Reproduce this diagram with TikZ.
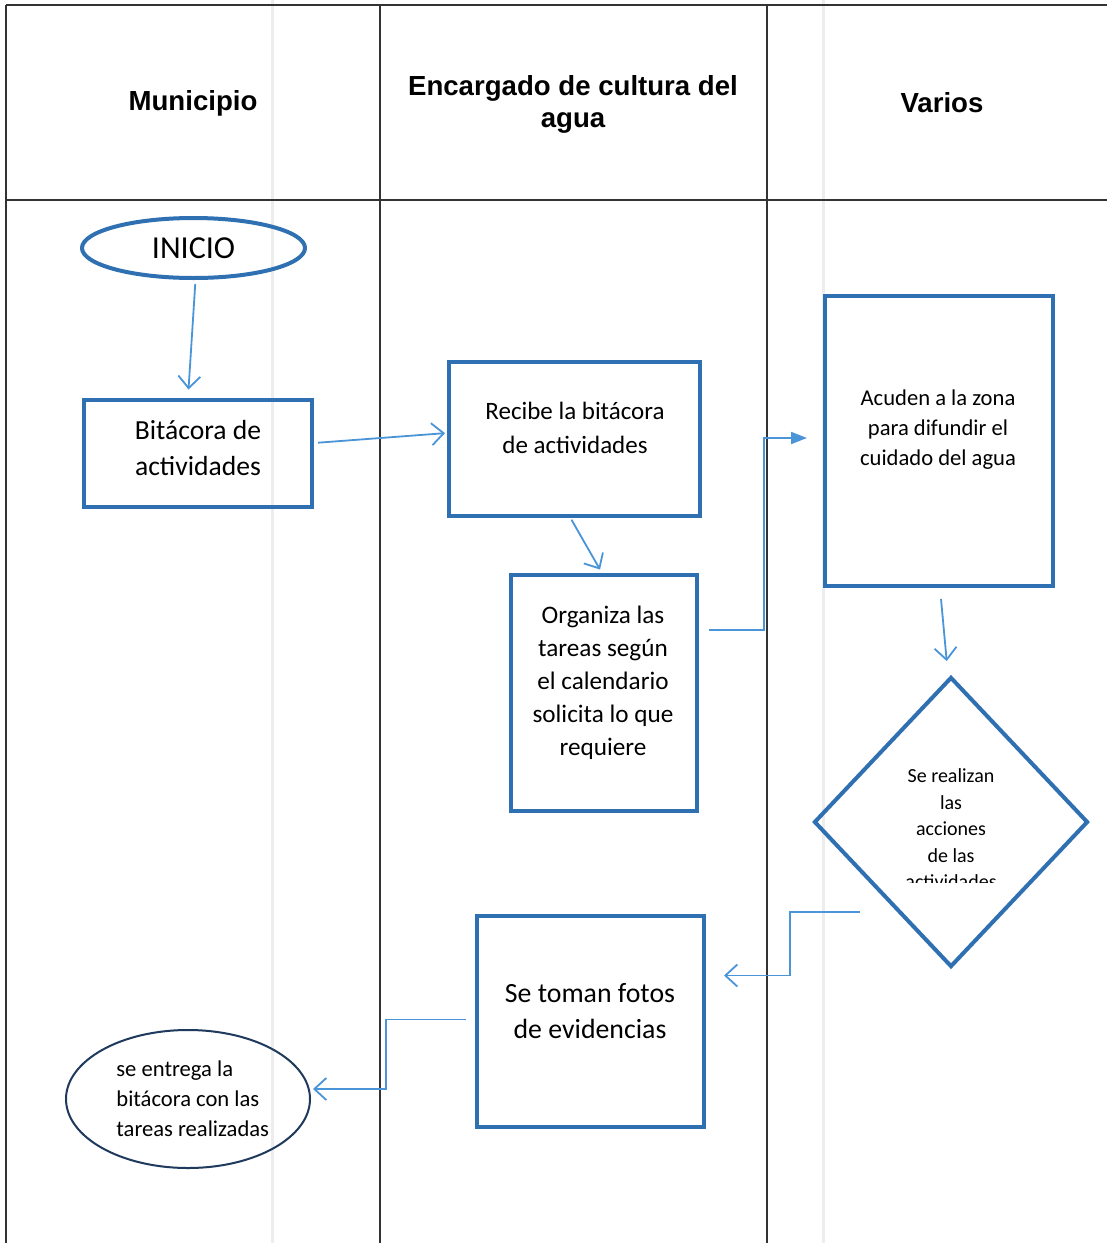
\documentclass[tikz,border=0pt]{standalone}
\usepackage{fontspec}
\setmainfont{Carlito}
\newfontfamily\headfont{Liberation Sans}
\usetikzlibrary{arrows.meta, shapes.geometric}
\definecolor{borde}{HTML}{2E70B2}
\definecolor{flecha}{HTML}{4A94D8}
\definecolor{marino}{HTML}{1F3A5C}
\tikzset{linea/.style = {draw=black!80, line width=0.7pt}}
\tikzset{tenue/.style = {draw=black!7, line width=1.5pt}}
\tikzset{titulo/.style = {font=\headfont\bfseries\fontsize{13.8}{16}\selectfont, align=center}}
\tikzset{caja/.style = {shape=rectangle, draw=borde, line width=2pt, inner sep=0pt}}
\tikzset{ovalo/.style = {shape=ellipse, draw=borde, line width=2pt, inner sep=0pt}}
\tikzset{rombo/.style = {shape=diamond, draw=borde, line width=2pt, inner sep=0pt}}
\tikzset{txt/.style = {align=center, inner sep=0pt}}
\tikzset{edge/.style = {draw=flecha, line width=0.9pt, -{Straight Barb[length=6pt,width=11pt]}}}
\tikzset{edgef/.style = {draw=flecha, line width=0.9pt, -{Triangle[length=8pt,width=6pt]}}}

\begin{document}
\begin{tikzpicture}[x=0.5pt, y=-0.5pt]
        \useasboundingbox (0,0) rectangle (1107,1243);
        \fill[white] (0,0) rectangle (1107,1243);
        \draw[tenue] (272,0) -- (272,1243);
        \draw[tenue] (823,0) -- (823,1243);
        % tabla
        \draw[linea] (6,5) -- (1107,5);
        \draw[linea] (6,5) -- (6,1243);
        \draw[linea, line width=1.2pt] (6,200) -- (1107,200);
        \draw[linea] (380,5) -- (380,1243);
        \draw[linea] (767,5) -- (767,1243);
        \node[titulo] (h1) at (193,103) {Municipio};
        \node[titulo] (h2) at (573,104) {Encargado de cultura del\\agua};
        \node[titulo] (h3) at (942,103) {Varios};
        % nodos
        \node[ovalo, minimum width=111.5pt, minimum height=30pt,
              font=\fontsize{16}{18}\selectfont] (ini) at (193.5,248) {INICIO};
        \node[caja, minimum width=114pt, minimum height=53.5pt] (b1) at (198,453) {};
        \node[txt, font=\fontsize{13.8}{18}\selectfont] (tb1) at (198,448) {Bitácora de\\actividades};
        \node[caja, minimum width=125.5pt, minimum height=77pt] (r1) at (574.5,439) {};
        \node[txt, font=\fontsize{12.5}{17}\selectfont] (tr1) at (575,428) {Recibe la bitácora\\de actividades};
        \node[caja, minimum width=93pt, minimum height=118pt] (o1) at (604,693) {};
        \node[txt, font=\fontsize{12.6}{16.5}\selectfont] (to1) at (603,683)
              {Organiza las\\tareas según\\el calendario\\solicita lo que\\requiere};
        \node[caja, minimum width=114pt, minimum height=145pt] (a1) at (939,441) {};
        \node[txt, font=\fontsize{11.3}{15}\selectfont] (ta1) at (938,430)
              {Acuden a la zona\\para difundir el\\cuidado del agua};
        \node[rombo, minimum width=137pt, minimum height=145pt] (d1) at (951,822) {};
        \begin{scope}
        \clip (820,740) rectangle (1090,882);
        \node[txt, font=\fontsize{10}{13.25}\selectfont] (td1) at (951,829)
              {Se realizan\\las\\acciones\\de las\\actividades};
        \end{scope}
        \node[caja, minimum width=113.5pt, minimum height=105.5pt] (s1) at (590.5,1021.5) {};
        \node[txt, font=\fontsize{13.9}{18}\selectfont] (ts1) at (590,1011) {Se toman fotos\\de evidencias};
        \node[shape=ellipse, draw=marino, line width=1pt, inner sep=0pt,
              minimum width=122pt, minimum height=69pt] (e1) at (188,1099) {};
        \node[txt, anchor=west, align=left, font=\fontsize{11.3}{15}\selectfont] (te1) at (116,1099)
              {se entrega la\\bitácora con las\\tareas realizadas};
        % conectores
        \draw[edge, shorten <=2pt, shorten >=4pt] ([xshift=1pt]ini.south) -- ([xshift=-5pt]b1.north);
        \draw[edge, shorten <=2pt, shorten >=1pt] ([yshift=5pt]b1.east) -- ([yshift=3pt]r1.west);
        \draw[edge, shorten <=1pt, shorten >=2pt] ([xshift=-2pt]r1.south) -- ([xshift=-1pt]o1.north);
        \draw[edgef, shorten >=8pt] ([xshift=5pt, yshift=31.5pt]o1.east) -- ++(55,0) |- ([yshift=1.5pt]a1.west);
        \draw[edge, shorten <=5.5pt, shorten >=7pt] ([xshift=0.5pt]a1.south) -- ([xshift=-1.5pt]d1.north);
        \coordinate (c1) at ([shift={(-91,90)}]d1.center);
        \draw[edge, shorten >=9pt] (c1) -- ++(-70,0) |- ([yshift=23pt]s1.east);
        \draw[edge, shorten >=1pt] ([xshift=-4.5pt, yshift=1pt]s1.west) -- ++(-80,0) |- ([yshift=5pt]e1.east);
\end{tikzpicture}
\end{document}
